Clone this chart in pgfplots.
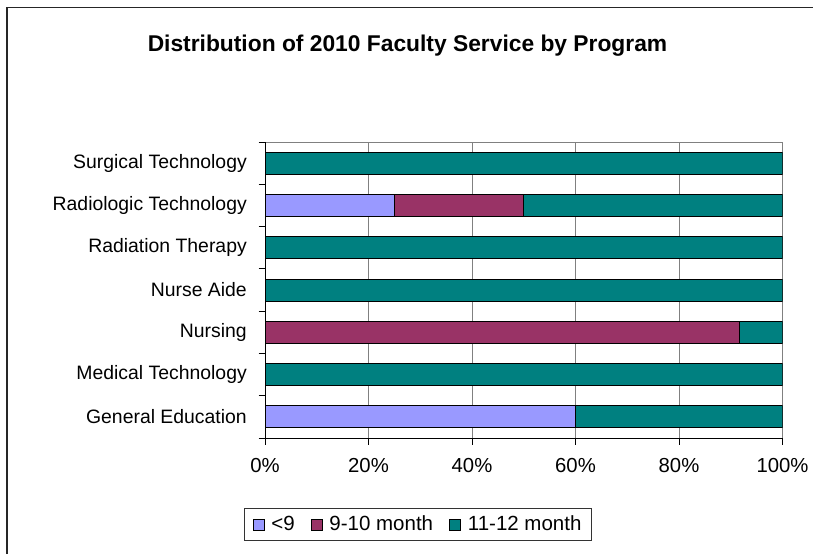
\documentclass[border=0pt]{standalone}
\usepackage{pgfplots}
\pgfplotsset{compat=1.18}
\usepackage{fontspec}
\setmainfont{Liberation Sans}
\definecolor{cLav}{HTML}{9999FF}
\definecolor{cPlum}{HTML}{993366}
\definecolor{cTeal}{HTML}{008080}
\begin{document}
\fontsize{20pt}{24pt}\selectfont
\begin{tikzpicture}
\path[use as bounding box] (0pt,0pt) rectangle (813pt,554pt);
\draw[line width=1.5pt, black!85] (7pt,0pt) -- (7pt,546.5pt) -- (813pt,546.5pt);
\node[font=\bfseries\fontsize{22.8pt}{27pt}\selectfont] at (407.5pt,508pt) {Distribution of 2010 Faculty Service by Program};
\begin{axis}[
  at={(265pt,116pt)}, anchor=south west, scale only axis,
  width=517.5pt, height=296pt,
  xbar stacked, bar width=22pt, bar shift=0pt,
  xmin=0, xmax=100, ymin=-0.5, ymax=6.5,
  xtick={0,20,40,60,80,100},
  xticklabels={0\%,20\%,40\%,60\%,80\%,100\%},
  ytick={0,1,2,3,4,5,6},
  yticklabels={General Education,Medical Technology,Nursing,Nurse Aide,Radiation Therapy,Radiologic Technology,Surgical Technology},
  minor ytick={-0.5,0.5,1.5,2.5,3.5,4.5,5.5,6.5},
  tick align=outside, xtick pos=bottom, ytick pos=left,
  major tick length=6.5pt, minor tick length=6.5pt,
  major y tick style={draw=none},
  tick style={black, line width=0.75pt},
  minor tick style={black, line width=0.75pt},
  xmajorgrids, major grid style={gray, line width=1pt},
  axis line style={gray, line width=1pt},
  /pgf/number format/assume math mode=true,
  ticklabel style={inner sep=0pt},
  yticklabel style={font=\fontsize{19.4pt}{23pt}\selectfont, anchor=east, xshift=-11.5pt},
  xticklabel style={font=\fontsize{20.3pt}{24pt}\selectfont, anchor=north, yshift=-13.5pt},
  every axis plot/.append style={draw=black, line width=0.75pt},
  legend style={at={(axis description cs:0.2957,-0.292)}, anchor=center,
    legend columns=-1, draw=black!80, line width=0.75pt,
    font=\fontsize{20.5pt}{24pt}\selectfont,
    inner xsep=8pt, inner ysep=5pt,
    /tikz/every odd column/.append style={column sep=5pt},
    /tikz/every even column/.append style={column sep=14pt}},
  legend image code/.code={\draw[#1,draw=black,line width=0.75pt] (0pt,-6pt) rectangle (11pt,5pt);},
  after end axis/.code={
    \draw[black, line width=1pt] (rel axis cs:0,1) -- (rel axis cs:0,0) -- (rel axis cs:1,0);
  },
]
\addplot[fill=cLav] coordinates {(60,0) (0,1) (0,2) (0,3) (0,4) (25,5) (0,6)};
\addplot[fill=cPlum] coordinates {(0,0) (0,1) (91.7,2) (0,3) (0,4) (25,5) (0,6)};
\addplot[fill=cTeal] coordinates {(40,0) (100,1) (8.3,2) (100,3) (100,4) (50,5) (100,6)};
\legend{<9,9-10 month,11-12 month}
\end{axis}
\end{tikzpicture}
\end{document}
